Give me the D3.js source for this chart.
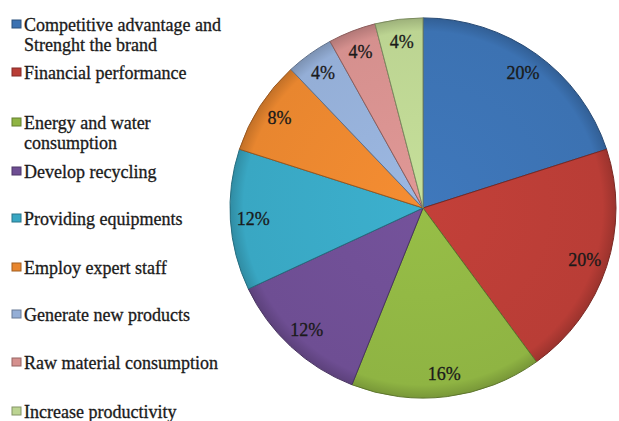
<!DOCTYPE html>
<html><head><meta charset="utf-8">
<script src="https://cdn.jsdelivr.net/npm/d3@7/dist/d3.min.js"></script>
</head><body style="margin:0">
<svg id="c" width="619" height="421" font-family="serif"></svg>
<script>
const categories = ["Competitive advantage and Strenght the brand","Financial performance","Energy and water consumption","Develop recycling","Providing equipments","Employ expert staff","Generate new products","Raw material consumption","Increase productivity"];
const legendLines = [["Competitive advantage and","Strenght the brand"],["Financial performance"],["Energy and water","consumption"],["Develop recycling"],["Providing equipments"],["Employ expert staff"],["Generate new products"],["Raw material consumption"],["Increase productivity"]];
const values = [20,20,16,12,12,8,4,4,4];
const colors = ["#3c72b2","#b93d36","#8fb443","#6e4e93","#39a7c3","#e8862f","#94aed6","#d5908e","#bcd492"];
const legendY = [25,73,123,172,219,268,315,363,412];

const svg = d3.select("#c");
const defs = svg.append("defs");
const cx = 423, cy = 208, R = 193, sy = 0.985;

colors.forEach((c,i)=>{
  const g = defs.append("radialGradient").attr("id","g"+i).attr("gradientUnits","userSpaceOnUse")
    .attr("cx",0).attr("cy",0).attr("r",R);
  g.append("stop").attr("offset","0%").attr("stop-color",d3.color(c).brighter(0.15));
  g.append("stop").attr("offset","93%").attr("stop-color",c);
  g.append("stop").attr("offset","100%").attr("stop-color",d3.color(c).darker(0.5));
});

const pie = d3.pie().sort(null).value(d=>d)(values);
const arc = d3.arc().innerRadius(0).outerRadius(R);
const g = svg.append("g").attr("transform",`translate(${cx},${cy}) scale(1,${sy})`);
g.selectAll("path").data(pie).join("path")
  .attr("d",arc)
  .attr("fill",(d,i)=>`url(#g${i})`)
  .attr("stroke",(d,i)=>d3.color(colors[i]).darker(1.2))
  .attr("stroke-width",1);

const lab = d3.arc().innerRadius(170).outerRadius(170);
svg.append("g").selectAll("text").data(pie).join("text")
  .attr("x",d=>cx+lab.centroid(d)[0])
  .attr("y",d=>cy+lab.centroid(d)[1]*sy + 6)
  .attr("text-anchor","middle")
  .attr("font-size",18)
  .attr("fill","#1a1a1a").attr("stroke","#1a1a1a").attr("stroke-width",0.3)
  .text(d=>d.data+"%");

const lg = svg.append("g");
legendLines.forEach((lines,i)=>{
  const y = legendY[i];
  lg.append("rect").attr("x",12).attr("y",y-5).attr("width",9).attr("height",8)
    .attr("fill",colors[i]).attr("stroke",d3.color(colors[i]).darker(1)).attr("stroke-width",1);
  lines.forEach((t,j)=>{
    lg.append("text").attr("x",24).attr("y",y+j*20+6)
      .attr("font-size",18)
      .attr("fill","#1a1a1a").attr("stroke","#1a1a1a").attr("stroke-width",0.3).text(t);
  });
});
</script>
</body></html>
